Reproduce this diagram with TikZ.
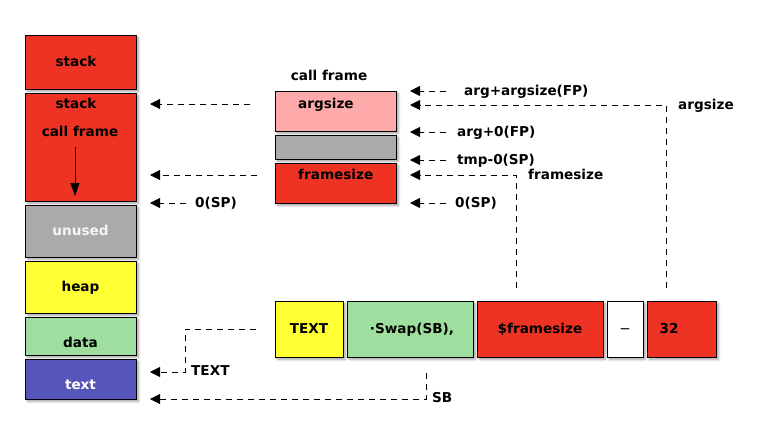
\documentclass[tikz,border=0pt]{standalone}
\usepackage{fontspec}
\setmainfont{DejaVu Sans}
\usetikzlibrary{arrows.meta,shadows.blur}
\definecolor{cred}{RGB}{238,51,36}
\definecolor{cpink}{RGB}{255,170,170}
\definecolor{cgray}{RGB}{170,170,170}
\definecolor{cyellow}{RGB}{255,255,51}
\definecolor{cgreen}{RGB}{158,222,158}
\definecolor{cblue}{RGB}{85,85,187}
\begin{document}
\begin{tikzpicture}[x=1pt,y=-1pt,
  lbl/.style={font=\fontsize{13.6}{15}\selectfont\bfseries, inner sep=0pt, text height=9.9pt, text depth=0pt},
  box/.style={draw=black, line width=0.9pt, inner sep=0pt, lbl,
    blur shadow={shadow xshift=2.5pt, shadow yshift=-2.5pt, shadow blur steps=6, shadow opacity=35}},
  con/.style={line width=0.8pt, dash pattern=on 6pt off 5pt, -{Triangle[length=10pt,width=10pt]}}
]
\path[use as bounding box] (0,0) rectangle (760,434);

% left memory column
\node[box,fill=cred,minimum width=111pt,minimum height=54pt] (stackA) at (80.5,62) {};
\node[lbl] (stackAl) at (76,62) {stack};
\node[box,fill=cred,minimum width=111pt,minimum height=108pt] (stackB) at (80.5,147) {};
\node[lbl] (stackBl) at (76,104) {stack};
\node[lbl] (cfl) at (80,132) {call frame};
\coordinate (growA) at (75,147);
\coordinate (growB) at (75,196);
\draw[line width=0.8pt,-{Triangle[length=13pt,width=9pt]}] (growA) -- (growB);
\node[box,fill=cgray,minimum width=111pt,minimum height=52pt] (unused) at (80.5,231) {};
\node[lbl,text=white!92!gray] (unusedl) at (80.5,231) {unused};
\node[box,fill=cyellow,minimum width=111pt,minimum height=52pt] (heap) at (80.5,287) {};
\node[lbl] (heapl) at (80.5,287) {heap};
\node[box,fill=cgreen,minimum width=111pt,minimum height=38pt] (data) at (80.5,336) {};
\node[lbl] (datal) at (80.5,343) {data};
\node[box,fill=cblue,minimum width=111pt,minimum height=40pt] (textseg) at (80.5,379) {};
\node[lbl,text=white] (textsegl) at (80.5,385) {text};

% call frame
\node[lbl] (cftitle) at (329,76) {call frame};
\node[box,fill=cpink,minimum width=121pt,minimum height=40pt] (argbox) at (335.5,111) {};
\node[lbl,anchor=west] (argl) at (298,104) {argsize};
\node[box,fill=cgray,minimum width=121pt,minimum height=24pt] (tmpbox) at (335.5,147) {};
\node[box,fill=cred,minimum width=121pt,minimum height=40pt] (fsbox) at (335.5,183) {};
\node[lbl,anchor=west] (fsl) at (298,175) {framesize};

% arrows from call frame to stack
\coordinate (l1s) at (250,104); \coordinate (l1e) at (150,104);
\draw[con] (l1s) -- (l1e);
\coordinate (l2s) at (257,175); \coordinate (l2e) at (150,175);
\draw[con] (l2s) -- (l2e);
\node[lbl,anchor=west] (spl) at (195,203) {0(SP)};
\coordinate (l3s) at (186,203); \coordinate (l3e) at (150,203);
\draw[con] (l3s) -- (l3e);

% right side labels
\node[lbl,anchor=west] (r1l) at (464,91) {arg+argsize(FP)};
\coordinate (r1s) at (446,91); \coordinate (r1e) at (410,91);
\draw[con] (r1s) -- (r1e);
\node[lbl,anchor=west] (r2l) at (678,105) {argsize};
\coordinate (r2s) at (666,288); \coordinate (r2e) at (410,105);
\draw[con] (r2s) |- (r2e);
\node[lbl,anchor=west] (r3l) at (457,132) {arg+0(FP)};
\coordinate (r3s) at (446,132); \coordinate (r3e) at (410,132);
\draw[con] (r3s) -- (r3e);
\node[lbl,anchor=west] (r4l) at (457,160) {tmp-0(SP)};
\coordinate (r4s) at (446,160); \coordinate (r4e) at (410,160);
\draw[con] (r4s) -- (r4e);
\node[lbl,anchor=west] (r5l) at (528,175) {framesize};
\coordinate (r5s) at (516,288); \coordinate (r5e) at (410,175);
\draw[con] (r5s) |- (r5e);
\node[lbl,anchor=west] (r6l) at (455,203) {0(SP)};
\coordinate (r6s) at (446,203); \coordinate (r6e) at (410,203);
\draw[con] (r6s) -- (r6e);

% instruction row
\node[box,fill=cyellow,minimum width=68pt,minimum height=56pt] (itext) at (309,329) {};
\node[lbl] (itextl) at (309,329) {TEXT};
\node[box,fill=cgreen,minimum width=126pt,minimum height=56pt] (iswap) at (410,329) {};
\node[lbl] (iswapl) at (412,329) {·Swap(SB),};
\node[box,fill=cred,minimum width=126pt,minimum height=56pt] (ifs) at (540,329) {};
\node[lbl] (ifsl) at (540,329) {\$framesize};
\node[box,fill=white,minimum width=36pt,minimum height=56pt] (iminus) at (625,329) {};
\node[lbl,font=\fontsize{13.6}{15}\selectfont] (iminusl) at (625,329) {−};
\node[box,fill=cred,minimum width=69pt,minimum height=56pt] (i32) at (681.5,329) {};
\node[lbl] (i32l) at (669,329) {32};

% TEXT connector
\coordinate (t1) at (256,329); \coordinate (t2) at (185,329);
\coordinate (t3) at (185,372); \coordinate (t4) at (150,372);
\draw[con] (t1) -- (t2) -- (t3) -- (t4);
\node[lbl,anchor=west] (textl) at (191,371) {TEXT};

% SB connector
\coordinate (s1) at (426,373); \coordinate (s2) at (150,399);
\draw[con] (s1) |- (s2);
\node[lbl,anchor=west] (sbl) at (432,398) {SB};
\end{tikzpicture}
\end{document}
